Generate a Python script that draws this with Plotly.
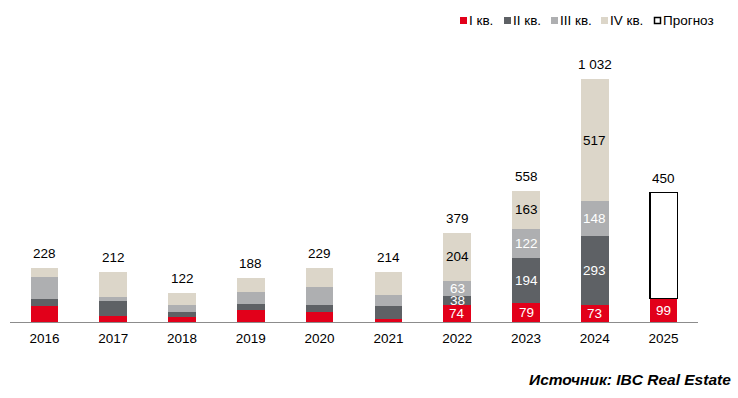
import plotly.graph_objects as go

YEARS = ["2016", "2017", "2018", "2019", "2020", "2021", "2022", "2023", "2024", "2025"]
Q1 = [68, 27, 20, 50, 41, 14, 74, 79, 73, 99]
Q2 = [31, 61, 21, 28, 33, 56, 38, 194, 293, None]
Q3 = [92, 20, 31, 48, 73, 45, 63, 122, 148, None]
Q4 = [37, 104, 50, 62, 82, 99, 204, 163, 517, None]
FORECAST = [None, None, None, None, None, None, None, None, None, 450]
TOTAL_LABELS = ["228", "212", "122", "188", "229", "214", "379", "558", "1 032", "450"]
SEG_LABEL_FROM = "2022"
SERIES_NAMES = ["I кв.", "II кв.", "III кв.", "IV кв.", "Прогноз"]

COLORS = ["#E2001A", "#5E6165", "#AEAFB1", "#DCD6C9"]
TEXT_COLORS = ["white", "white", "white", "black"]
FONT = "Liberation Sans, Arial, sans-serif"

W, H = 738, 398
ML, MR, MT, MB = 10, 40, 40, 76
PW, PH = W - ML - MR, H - MT - MB


def px(x):
    return (x - ML) / PW


def py(y):
    return (H - MB - y) / PH


fig = go.Figure()
series = [Q1, Q2, Q3, Q4]
for vals, col, name in zip(series, COLORS, SERIES_NAMES):
    fig.add_trace(go.Bar(x=YEARS, y=vals, name=name, marker=dict(color=col, line=dict(width=0)),
                         showlegend=False, hoverinfo="skip"))
fig.add_trace(go.Bar(x=YEARS, y=FORECAST, name=SERIES_NAMES[4],
                     marker=dict(color="white", line=dict(color="black", width=1.5)),
                     showlegend=False, hoverinfo="skip"))

annotations = []
start = YEARS.index(SEG_LABEL_FROM)
for i, yr in enumerate(YEARS):
    base = 0
    for s, vals in enumerate(series):
        v = vals[i]
        if v is None:
            continue
        if i >= start:
            annotations.append(dict(x=i, y=base + v / 2, text=str(v), showarrow=False,
                                    xref="x", yref="y", yanchor="middle",
                                    font=dict(family=FONT, size=13.5, color=TEXT_COLORS[s])))
        base += v
    if FORECAST[i] is not None:
        base += FORECAST[i]
    annotations.append(dict(x=i, y=base, text=TOTAL_LABELS[i], showarrow=False,
                            xref="x", yref="y", yanchor="bottom", yshift=5,
                            font=dict(family=FONT, size=13.5, color="black")))

# legend (custom compact)
shapes = []
leg_sq = [460, 504, 551, 601, 654]
leg_txt = [467, 511, 558, 608, 661]
leg_y = 20.5
for k, name in enumerate(SERIES_NAMES):
    if k < 4:
        shapes.append(dict(type="rect", xref="paper", yref="paper",
                           x0=px(leg_sq[k]), x1=px(leg_sq[k] + 7),
                           y0=py(leg_y + 3.5), y1=py(leg_y - 3.5),
                           fillcolor=COLORS[k], line=dict(width=0)))
    else:
        shapes.append(dict(type="rect", xref="paper", yref="paper",
                           x0=px(leg_sq[k] + 0.5), x1=px(leg_sq[k] + 6.5),
                           y0=py(leg_y + 3), y1=py(leg_y - 3),
                           fillcolor="white", line=dict(color="black", width=1.5)))
    annotations.append(dict(x=px(leg_txt[k]), y=py(leg_y), xref="paper", yref="paper",
                            text=name, showarrow=False, xanchor="left", yanchor="middle",
                            font=dict(family=FONT, size=13.5, color="black")))

annotations.append(dict(x=px(733), y=py(379), xref="paper", yref="paper",
                        text="<b><i>Источник: IBC Real Estate</i></b>", showarrow=False,
                        xanchor="right", yanchor="middle",
                        font=dict(family=FONT, size=15.5, color="black")))

fig.update_layout(
    barmode="stack", bargap=0.6,
    width=W, height=H,
    margin=dict(l=ML, r=MR, t=MT, b=MB, pad=0),
    paper_bgcolor="white", plot_bgcolor="white",
    showlegend=False,
    annotations=annotations, shapes=shapes,
    font=dict(family=FONT, size=13.5, color="black"),
)
fig.update_xaxes(type="category", range=[-0.5, len(YEARS) - 0.5], showline=True,
                 linecolor="#8C8C8C", linewidth=1,
                 ticks="", showgrid=False, zeroline=False, ticklabelstandoff=4,
                 tickfont=dict(family=FONT, size=13.5, color="black"))
fig.update_yaxes(range=[0, PH / 0.2355], visible=False, showgrid=False, zeroline=False)

fig.write_html("out.html", config={"displayModeBar": False},
               post_script="document.body.style.margin='0px';document.body.style.overflow='hidden';")
